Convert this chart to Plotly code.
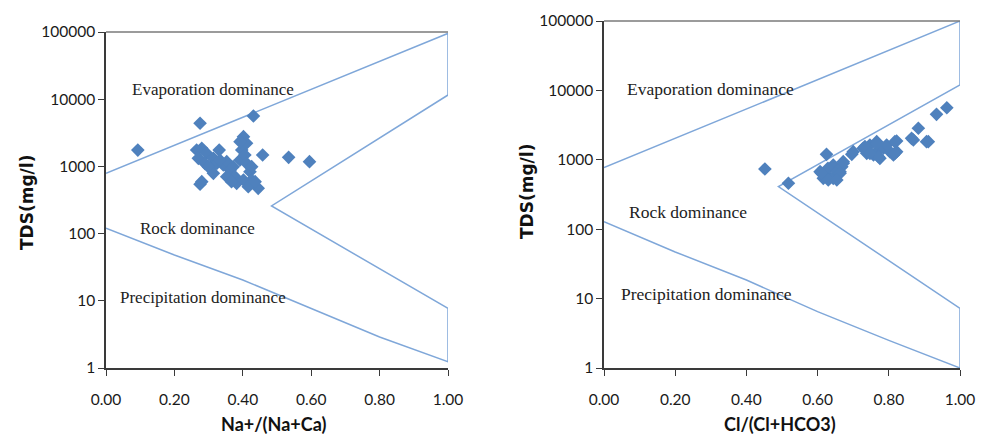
import plotly.graph_objects as go

# ---------------- data ----------------
# Left panel: Na+/(Na+Ca) vs TDS
na_ratio = [0.093, 0.275, 0.431, 0.275, 0.458, 0.534, 0.595, 0.445, 0.402, 0.331,
            0.280, 0.265, 0.270, 0.294, 0.314, 0.309, 0.324, 0.314, 0.343, 0.353,
            0.363, 0.372, 0.377, 0.382, 0.392, 0.397, 0.406, 0.411, 0.421, 0.426,
            0.402, 0.416, 0.426, 0.411, 0.392, 0.289, 0.299, 0.333, 0.353, 0.367,
            0.436, 0.280]
na_tds = [1750, 4380, 5620, 542, 1478, 1366, 1175, 472, 2770, 1750,
          1860, 1755, 1320, 1567, 1320, 990, 1112, 789, 1050, 1175,
          884, 990, 703, 560, 1245, 1755, 1478, 1112, 834, 628,
          628, 499, 990, 2208, 2333, 1112, 990, 1245, 703, 592,
          592, 592]

# Right panel: Cl/(Cl+HCO3) vs TDS
cl_ratio = [0.452, 0.518, 0.625, 0.934, 0.963, 0.883, 0.911, 0.864, 0.822, 0.822,
            0.696, 0.607, 0.626, 0.644, 0.663, 0.644, 0.672, 0.629, 0.616, 0.654,
            0.668, 0.728, 0.747, 0.766, 0.785, 0.803, 0.757, 0.775, 0.738, 0.794,
            0.813, 0.771, 0.700, 0.672, 0.663, 0.611, 0.630, 0.654, 0.869, 0.906,
            0.817, 0.817, 0.766, 0.771, 0.733, 0.747]
cl_tds = [737, 459, 1200, 4520, 5630, 2846, 1823, 2040, 1866, 1309,
          1200, 674, 604, 541, 674, 841, 939, 754, 541, 674,
          796, 1466, 1635, 1823, 1466, 1309, 1173, 1051, 1240, 1635,
          1173, 1384, 1309, 891, 639, 639, 512, 512, 1930, 1823,
          1823, 1240, 1720, 1109, 1550, 1240]

# Gibbs boundary outlines (one continuous path per panel)
left_bound_x = [0.0, 1.0, 1.0, 0.484, 1.0, 1.0, 0.8, 0.6, 0.4, 0.2, 0.0]
left_bound_tds = [789, 95500, 11550, 258, 7.7, 1.24, 2.9, 7.7, 20.4, 48, 120]
right_bound_x = [0.0, 1.0, 1.0, 0.49, 1.0, 1.0, 0.8, 0.6, 0.4, 0.2, 0.0]
right_bound_tds = [770, 100000, 11970, 410, 7.25, 1.0, 2.5, 6.5, 18.5, 47, 128]

# Region labels: (text, x, log10 TDS)
left_labels = [("Evaporation dominance", 0.313, 4.137),
               ("Rock dominance", 0.268, 2.083),
               ("Precipitation dominance", 0.284, 1.046)]
right_labels = [("Evaporation dominance", 0.298, 4.016),
                ("Rock dominance", 0.235, 2.252),
                ("Precipitation dominance", 0.287, 1.066)]

tick_vals = [1, 10, 100, 1000, 10000, 100000]
tick_text = ["1", "10", "100", "1000", "10000", "100000"]
x_ticks = [0.0, 0.2, 0.4, 0.6, 0.8, 1.0]

# ---------------- styling ----------------
W, H = 984, 438
MARK = "#4F81BD"
LINE = "#7FA7D9"
AXIS = "#3a3a3a"
TICKFONT = dict(family="Lato, Liberation Sans, sans-serif", size=15.5, color="#1a1a1a")
SERIF = "Liberation Serif, Times New Roman, serif"

fig = go.Figure()

fig.add_trace(go.Scatter(x=left_bound_x, y=left_bound_tds, mode="lines",
                         line=dict(color=LINE, width=1.5), xaxis="x", yaxis="y",
                         hoverinfo="skip", showlegend=False))
fig.add_trace(go.Scatter(x=na_ratio, y=na_tds, mode="markers",
                         marker=dict(symbol="diamond", size=10.5, color=MARK),
                         xaxis="x", yaxis="y", showlegend=False))
fig.add_trace(go.Scatter(x=right_bound_x, y=right_bound_tds, mode="lines",
                         line=dict(color=LINE, width=1.5), xaxis="x2", yaxis="y2",
                         hoverinfo="skip", showlegend=False))
fig.add_trace(go.Scatter(x=cl_ratio, y=cl_tds, mode="markers",
                         marker=dict(symbol="diamond", size=10.5, color=MARK),
                         xaxis="x2", yaxis="y2", showlegend=False))

def xaxis_cfg(domain, anchor):
    return dict(domain=domain, anchor=anchor, range=[0, 1], tickvals=x_ticks,
                tickformat=".2f", ticks="outside", ticklen=6, tickcolor=AXIS,
                tickwidth=1.3, showline=True, linecolor=AXIS, linewidth=1.5,
                showgrid=False, zeroline=False, tickfont=TICKFONT,
                ticklabelstandoff=11, automargin=False)

def yaxis_cfg(domain, anchor):
    return dict(domain=domain, anchor=anchor, type="log", range=[0, 5],
                tickvals=tick_vals, ticktext=tick_text, ticks="outside",
                ticklen=6, tickcolor=AXIS, tickwidth=1.3, showline=True,
                linecolor=AXIS, linewidth=1.5, showgrid=False, zeroline=False,
                tickfont=TICKFONT, automargin=False)

lx = [106 / W, 448 / W]
ly = [1 - 368 / H, 1 - 32 / H]
rx = [604 / W, 960 / W]
ry = [1 - 368 / H, 1 - 21 / H]

fig.update_layout(
    width=W, height=H, margin=dict(l=0, r=0, t=0, b=0, autoexpand=False),
    paper_bgcolor="white", plot_bgcolor="white",
    xaxis=xaxis_cfg(lx, "y"), yaxis=yaxis_cfg(ly, "x"),
    xaxis2=xaxis_cfg(rx, "y2"), yaxis2=yaxis_cfg(ry, "x2"),
)

# top border lines
for xr, yr in (("x domain", "y domain"), ("x2 domain", "y2 domain")):
    fig.add_shape(type="line", xref=xr, yref=yr, x0=0, x1=1, y0=1, y1=1,
                  line=dict(color="#7a7a7a", width=1.5))

anns = []
for txt, xv, lv in left_labels:
    anns.append(dict(text=txt, x=xv, y=lv, xref="x", yref="y", showarrow=False,
                     font=dict(family=SERIF, size=17, color="#222")))
for txt, xv, lv in right_labels:
    anns.append(dict(text=txt, x=xv, y=lv, xref="x2", yref="y2", showarrow=False,
                     font=dict(family=SERIF, size=17.5, color="#222")))

YT = dict(family="DejaVu Sans, Verdana, sans-serif", size=17, color="#111")
XT = dict(family="Lato, Liberation Sans, sans-serif", size=18, color="#111")
for txt, px, py, ang, fnt in (("<b>TDS(mg/l)</b>", 27, 203, -90, YT),
                              ("<b>TDS(mg/l)</b>", 527, 192, -90, YT),
                              ("<b>Na+/(Na+Ca)</b>", 273, 424, 0, XT),
                              ("<b>Cl/(Cl+HCO3)</b>", 780, 424, 0, XT)):
    anns.append(dict(text=txt, x=px / W, y=1 - py / H, xref="paper", yref="paper",
                     xanchor="center", yanchor="middle", textangle=ang,
                     showarrow=False, font=fnt))
fig.update_layout(annotations=anns)

fig.write_html("out.html")
